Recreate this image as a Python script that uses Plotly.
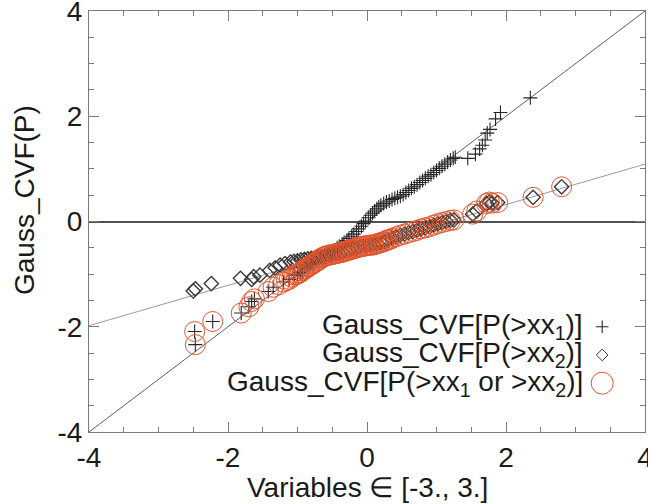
import plotly.graph_objects as go

# Gauss_CVF of the single-variable exceedance probabilities: first variable
x_plus = [-2.48, -2.47, -2.22, -1.81, -1.70, -1.66, -1.62, -1.42, -1.35, -1.20, -1.12, -1.05,
          -1.00, -0.96, -0.93, -0.89, -0.86, -0.82, -0.79, -0.75, -0.72, -0.68,
          -0.65, -0.61, -0.58, -0.54, -0.50, -0.47, -0.43, -0.40, -0.36, -0.33,
          -0.29, -0.26, -0.22, -0.19, -0.15, -0.12, -0.08, -0.05, -0.02, 0.02,
          0.05, 0.08, 0.11, 0.14, 0.17, 0.20, 0.24, 0.28, 0.32, 0.36,
          0.40, 0.44, 0.48, 0.52, 0.56, 0.60, 0.64, 0.68, 0.72, 0.76,
          0.80, 0.84, 0.88, 0.92, 0.96, 1.00, 1.04, 1.08, 1.12, 1.16,
          1.20, 1.24, 1.27,
          1.45, 1.56, 1.62, 1.66, 1.70, 1.73, 1.77, 1.85, 1.92, 2.35]
y_plus = [-2.09, -2.34, -1.90, -1.74, -1.62, -1.52, -1.47, -1.33, -1.25, -1.15, -1.10, -1.02,
          -1.00, -0.97, -0.94, -0.90, -0.87, -0.84, -0.81, -0.78, -0.75, -0.72,
          -0.69, -0.66, -0.63, -0.60, -0.57, -0.54, -0.50, -0.47, -0.43, -0.40,
          -0.36, -0.32, -0.28, -0.24, -0.19, -0.14, -0.09, -0.04, 0.01, 0.07,
          0.12, 0.16, 0.20, 0.24, 0.28, 0.31, 0.34, 0.37, 0.39, 0.42,
          0.44, 0.46, 0.48, 0.51, 0.55, 0.59, 0.63, 0.66, 0.70, 0.74,
          0.78, 0.82, 0.86, 0.89, 0.93, 0.97, 1.01, 1.05, 1.09, 1.13,
          1.17, 1.20, 1.22,
          1.20, 1.28, 1.38, 1.45, 1.55, 1.68, 1.75, 1.95, 2.07, 2.35]

# second variable
x_diam = [-2.50, -2.47, -2.24, -1.82, -1.66, -1.63, -1.54, -1.40, -1.32, -1.25, -1.18, -1.10, -1.05,
          -1.00, -0.95, -0.90, -0.85, -0.80, -0.75, -0.70, -0.65, -0.60, -0.55,
          -0.50, -0.45, -0.40, -0.35, -0.30, -0.25, -0.20, -0.15, -0.10, -0.05,
          0.00, 0.05, 0.10, 0.15, 0.20, 0.25, 0.30,
          0.36, 0.42, 0.48, 0.54, 0.60, 0.66, 0.72, 0.78, 0.84, 0.90,
          0.96, 1.02, 1.08, 1.14, 1.20, 1.25,
          1.52, 1.58, 1.72, 1.76, 1.80, 1.88, 2.39, 2.80]
y_diam = [-1.32, -1.28, -1.18, -1.08, -1.10, -1.05, -1.02, -0.93, -0.88, -0.83, -0.80, -0.77, -0.76,
          -0.75, -0.73, -0.72, -0.71, -0.70, -0.69, -0.68, -0.67, -0.66, -0.64,
          -0.63, -0.61, -0.60, -0.58, -0.56, -0.54, -0.52, -0.50, -0.48, -0.47,
          -0.46, -0.45, -0.44, -0.42, -0.40, -0.38, -0.35,
          -0.32, -0.29, -0.26, -0.24, -0.21, -0.19, -0.17, -0.14, -0.12, -0.10,
          -0.07, -0.04, -0.02, 0.00, 0.02, 0.03,
          0.14, 0.20, 0.34, 0.37, 0.35, 0.36, 0.46, 0.66]

# Gauss_CVF of the joint exceedance probability
x_joint = [-2.48, -2.47, -2.22, -1.81, -1.70, -1.66, -1.62, -1.42, -1.35, -1.27, -1.20, -1.16,
           -1.12, -1.08, -1.05, -1.02,
           -1.00, -0.98, -0.96, -0.93, -0.91, -0.89, -0.86, -0.84, -0.82, -0.79, -0.77,
           -0.75, -0.72, -0.70, -0.68, -0.65, -0.62,
           -0.60, -0.57, -0.55, -0.52, -0.50, -0.47, -0.45, -0.42, -0.40, -0.37,
           -0.35, -0.32, -0.30, -0.27, -0.25, -0.22, -0.20, -0.17, -0.15, -0.12,
           -0.10, -0.07, -0.05, -0.02, 0.00, 0.03, 0.05, 0.08, 0.10, 0.13,
           0.15, 0.18, 0.20, 0.23, 0.25, 0.28, 0.30, 0.33,
           0.36, 0.42, 0.48, 0.54, 0.60, 0.66, 0.72, 0.78, 0.84, 0.90,
           0.96, 1.02, 1.08, 1.14, 1.20, 1.25,
           1.52, 1.58, 1.72, 1.76, 1.80, 1.88, 2.39, 2.80]
y_joint = [-2.09, -2.34, -1.90, -1.74, -1.62, -1.52, -1.47, -1.33, -1.25, -1.20, -1.15, -1.12,
           -1.10, -1.06, -1.02, -1.01,
           -1.00, -0.98, -0.97, -0.94, -0.92, -0.90, -0.87, -0.86, -0.84, -0.81, -0.80,
           -0.78, -0.75, -0.74, -0.72, -0.69, -0.67,
           -0.66, -0.65, -0.64, -0.63, -0.63, -0.62, -0.61, -0.60, -0.60, -0.59,
           -0.58, -0.57, -0.56, -0.55, -0.54, -0.53, -0.52, -0.51, -0.50, -0.49,
           -0.48, -0.48, -0.47, -0.46, -0.46, -0.45, -0.45, -0.45, -0.44, -0.43,
           -0.42, -0.41, -0.40, -0.39, -0.38, -0.36, -0.35, -0.34,
           -0.32, -0.29, -0.26, -0.24, -0.21, -0.19, -0.17, -0.14, -0.12, -0.10,
           -0.07, -0.04, -0.02, 0.00, 0.02, 0.03,
           0.14, 0.20, 0.34, 0.37, 0.35, 0.36, 0.46, 0.66]

# reference lines: identity and the fit through the second variable
ident_x = [-4, 4]
ident_y = [-4, 4]
fit_x = [-4, 4]
fit_y = [-1.98, 1.09]

tick_vals = [-4, -2, 0, 2, 4]
tick_text = ["-4", "-2", "0", "2", "4"]

legend_labels = ["Gauss_CVF[P(>xx<sub>1</sub>)]",
                 "Gauss_CVF[P(>xx<sub>2</sub>)]",
                 "Gauss_CVF[P(>xx<sub>1</sub> or >xx<sub>2</sub>)]"]

FONT = "Liberation Sans"
FS = 28
TXT = "#1a1a1a"
RED = "#e5552c"
AX = "#7a7a7a"

fig = go.Figure()
fig.add_trace(go.Scatter(x=ident_x, y=ident_y, mode="lines",
                         line=dict(color="#5e5e5e", width=1), hoverinfo="skip"))
fig.add_trace(go.Scatter(x=fit_x, y=fit_y, mode="lines",
                         line=dict(color="#9a9a9a", width=1), hoverinfo="skip"))

marker_plus = dict(symbol="cross-thin-open", size=10, color="#262626",
                   line=dict(color="#262626", width=1.1))
marker_diam = dict(symbol="diamond-open", size=11, color="#3a3a3a",
                   line=dict(color="#3a3a3a", width=1.4))
marker_circ = dict(symbol="circle-open", size=20, color=RED,
                   line=dict(color=RED, width=1))

fig.add_trace(go.Scatter(x=x_plus, y=y_plus, mode="markers", marker=marker_plus))
fig.add_trace(go.Scatter(x=x_diam, y=y_diam, mode="markers", marker=marker_diam))
fig.add_trace(go.Scatter(x=x_joint, y=y_joint, mode="markers", marker=marker_circ))

# legend keys on an overlay axis spanning the plot area in fractions
key_x = [0.923, 0.923, 0.923]
key_y = [0.250, 0.183, 0.116]
key_markers = [dict(marker_plus, size=9), dict(marker_diam, size=9, line=dict(color="#3a3a3a", width=1)),
               dict(marker_circ, size=22)]
for kx, ky, m in zip(key_x, key_y, key_markers):
    fig.add_trace(go.Scatter(x=[kx], y=[ky], mode="markers", marker=m,
                             xaxis="x2", yaxis="y2", hoverinfo="skip"))
for lbl, ky in zip(legend_labels, key_y):
    fig.add_annotation(text=lbl, x=0.892, y=ky, xref="paper", yref="paper",
                       xanchor="right", yanchor="middle", showarrow=False,
                       font=dict(family=FONT, size=FS, color=TXT))

axis_common = dict(showline=True, linecolor=AX, linewidth=1, mirror="allticks",
                   ticks="inside", ticklen=10, tickwidth=1, tickcolor=AX,
                   showgrid=False, tickmode="array", tickvals=tick_vals, ticktext=tick_text,
                   ticklabeloverflow="allow", automargin=False,
                   minor=dict(ticks="inside", ticklen=5, dtick=0.5, tickcolor=AX,
                              showgrid=False),
                   tickfont=dict(family=FONT, size=FS, color=TXT))

fig.update_layout(
    width=648, height=504,
    margin=dict(l=89, r=3, t=11, b=72, autoexpand=False),
    paper_bgcolor="white", plot_bgcolor="white",
    showlegend=False,
    xaxis=dict(range=[-4, 4], zeroline=False, **axis_common),
    yaxis=dict(range=[-4, 4], zeroline=True, zerolinecolor="#505050", zerolinewidth=1.5,
               **axis_common),
    xaxis2=dict(range=[0, 1], overlaying="x", visible=False),
    yaxis2=dict(range=[0, 1], overlaying="y", visible=False),
)

fig.add_annotation(text="Variables ∈ [-3., 3.]", x=0.5, y=-0.133, xref="paper", yref="paper",
                   xanchor="center", yanchor="middle", showarrow=False,
                   font=dict(family=FONT, size=FS, color=TXT))
fig.add_annotation(text="Gauss_CVF(P)", x=-0.117, y=0.551, xref="paper", yref="paper",
                   xanchor="center", yanchor="middle", textangle=-90, showarrow=False,
                   font=dict(family=FONT, size=FS, color=TXT))

fig.write_html("out.html")
